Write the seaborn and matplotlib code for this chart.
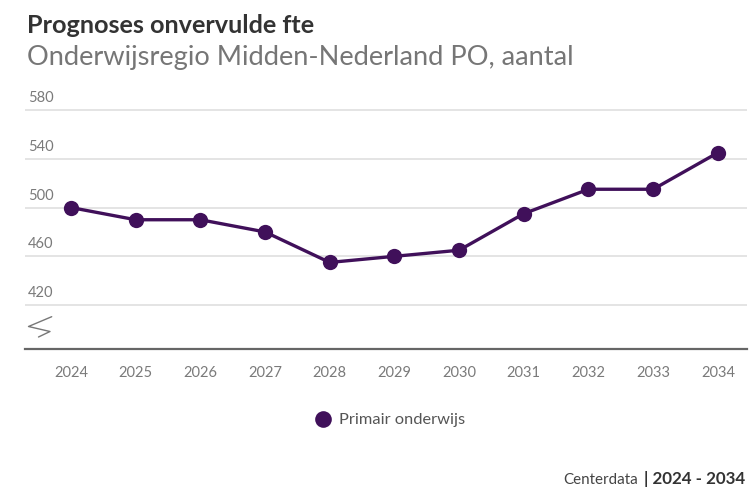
import matplotlib
matplotlib.use("Agg")
import matplotlib.pyplot as plt
from matplotlib.lines import Line2D
from matplotlib import transforms
import seaborn as sns
import pandas as pd

years = [2024, 2025, 2026, 2027, 2028, 2029, 2030, 2031, 2032, 2033, 2034]
values = [500, 490, 490, 480, 455, 460, 465, 495, 515, 515, 545]
y_ticks = [420, 460, 500, 540, 580]
series_name = "Primair onderwijs"

df = pd.DataFrame({"jaar": years, "fte": values, "reeks": series_name})

sns.set_theme(style="white")
plt.rcParams["font.family"] = ["Lato", "DejaVu Sans"]

W, H = 751, 493
fig = plt.figure(figsize=(W / 100, H / 100), dpi=100)
fig.patch.set_facecolor("white")

left, right, top, bottom = 25, 747, 97.8, 349
ax = fig.add_axes([left / W, 1 - bottom / H, (right - left) / W, (bottom - top) / H])

purple = "#40105a"
sns.lineplot(data=df, x="jaar", y="fte", hue="reeks", palette=[purple], marker="o",
             markersize=11, linewidth=2.4, markeredgewidth=0, legend=False, ax=ax)

ax.set_xlim(2023.29, 2034.45)
ax.set_ylim(384, 590)
ax.set_yticks(y_ticks)
ax.set_yticklabels([])
ax.tick_params(axis="y", length=0)
ax.grid(axis="y", color="#dcdcdc", linewidth=1.1)
ax.grid(axis="x", visible=False)
ax.set_xticks(years)
ax.set_xticklabels([str(y) for y in years], color="#7a7a7a", fontsize=10.5)
ax.tick_params(axis="x", length=0, pad=12)
ax.set_xlabel("")
ax.set_ylabel("")
for s in ["top", "left", "right"]:
    ax.spines[s].set_visible(False)
ax.spines["bottom"].set_color("#666666")
ax.spines["bottom"].set_linewidth(1.6)
ax.set_axisbelow(True)

trans = transforms.blended_transform_factory(ax.transAxes, ax.transData)
for v in y_ticks:
    ax.text(3 / (right - left), v + 4, str(v), transform=trans, ha="left", va="bottom",
            color="#7a7a7a", fontsize=10.5)

# axis break symbol
pts = [(51.7, 316.7), (28.5, 326.5), (50, 331.5), (38.5, 337)]
xs = [p[0] / W for p in pts]
ys = [1 - p[1] / H for p in pts]
fig.add_artist(Line2D(xs, ys, color="#777777", linewidth=1.0, transform=fig.transFigure))

renderer = fig.canvas.get_renderer()


def fit_text(x, y, s, target_w, size, **kw):
    t = fig.text(x / W, 1 - y / H, s, fontsize=size, **kw)
    w = t.get_window_extent(renderer).width
    t.set_fontsize(size * target_w / w)
    return t


fit_text(27, 33, "Prognoses onvervulde fte", 288, 18, fontweight="bold",
         color="#333333", ha="left", va="baseline")
fit_text(27, 65, "Onderwijsregio Midden-Nederland PO, aantal", 548, 18,
         color="#767676", ha="left", va="baseline")

handle = Line2D([], [], marker="o", linestyle="none", color=purple, markersize=12,
                markeredgewidth=0)
fig.legend([handle], [series_name], loc="center", bbox_to_anchor=(386 / W, 1 - 420 / H),
           frameon=False, fontsize=11.8, handletextpad=0.0, labelcolor="#555555")

fit_text(638, 484, "Centerdata", 75, 10.5, color="#444444", ha="right", va="baseline")
fit_text(745, 484, "| 2024 - 2034", 102, 10.5, fontweight="bold", color="#333333",
         ha="right", va="baseline")

fig.savefig("out.png", dpi=100, facecolor="white")
